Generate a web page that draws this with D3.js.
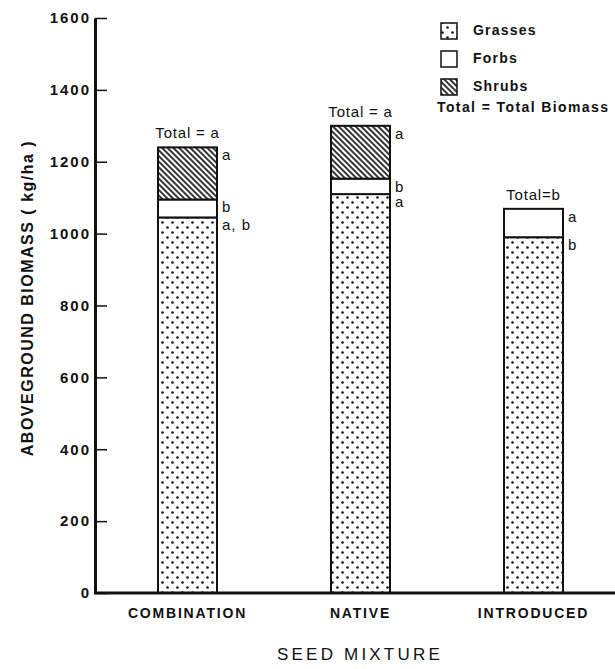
<!DOCTYPE html>
<html><head><meta charset="utf-8">
<script src="https://cdn.jsdelivr.net/npm/d3@7"></script>
<style>
html,body{margin:0;padding:0;background:#fff;}
svg text{font-family:"Liberation Sans","DejaVu Sans",sans-serif;fill:#111;}
</style></head>
<body><svg id="c" width="615" height="669"></svg>
<script>
const categories = ["COMBINATION", "NATIVE", "INTRODUCED"];
const grasses = [1045, 1110, 990];
const forbs = [50, 43, 79];
const shrubs = [145, 147, 0];
const grassLetters = ["a, b", "a", "b"];
const forbLetters = ["b", "b", "a"];
const shrubLetters = ["a", "a", ""];
const totalLetters = ["Total = a", "Total = a", "Total=b"];
const yTicks = [0, 200, 400, 600, 800, 1000, 1200, 1400, 1600];
const legendItems = [["Grasses", "url(#dots)"], ["Forbs", "#fff"], ["Shrubs", "url(#hatch)"]];

const svg = d3.select("#c");
const defs = svg.append("defs");
const dp = defs.append("pattern").attr("id", "dots").attr("patternUnits", "userSpaceOnUse")
  .attr("width", 10).attr("height", 10);
dp.append("rect").attr("width", 10).attr("height", 10).attr("fill", "#fff");
dp.append("circle").attr("cx", 2.5).attr("cy", 2.5).attr("r", 1.3).attr("fill", "#111");
dp.append("circle").attr("cx", 7.5).attr("cy", 7.5).attr("r", 1.3).attr("fill", "#111");
const hp = defs.append("pattern").attr("id", "hatch").attr("patternUnits", "userSpaceOnUse")
  .attr("width", 4).attr("height", 4).attr("patternTransform", "rotate(-45)");
hp.append("rect").attr("width", 4).attr("height", 4).attr("fill", "#fff");
hp.append("line").attr("x1", 2).attr("x2", 2).attr("y1", -1).attr("y2", 5)
  .attr("stroke", "#111").attr("stroke-width", 1.7);

const y = d3.scaleLinear().domain([0, 1600]).range([593, 18]);
const x = d3.scaleBand().domain(categories).range([101, 620])
  .paddingInner(0.659).paddingOuter(0.3295);

// y axis
const ya = svg.append("g").attr("transform", "translate(95,0)")
  .call(d3.axisLeft(y).tickValues(yTicks).tickFormat(d3.format("d")).tickSize(-12).tickSizeOuter(0).tickPadding(4));
ya.select(".domain").attr("stroke", "#111").attr("stroke-width", 3);
ya.selectAll(".tick line").attr("stroke", "#111").attr("stroke-width", 1.5);
ya.selectAll(".tick text").attr("font-size", 15).attr("font-weight", "bold").attr("letter-spacing", 2)
  .style("font-family", "'Liberation Sans',sans-serif").attr("fill", "#111");

// bars
const data = categories.map((c, i) => ({c, i, g: grasses[i], f: forbs[i], s: shrubs[i]}));
const bw = x.bandwidth();
data.forEach(d => {
  const x0 = x(d.c);
  const segs = [
    [0, d.g, "url(#dots)"],
    [d.g, d.g + d.f, "#fff"],
    [d.g + d.f, d.g + d.f + d.s, "url(#hatch)"]
  ].filter(s => s[1] > s[0]);
  segs.forEach(s => {
    svg.append("rect").attr("x", x0).attr("width", bw)
      .attr("y", y(s[1])).attr("height", y(s[0]) - y(s[1]))
      .attr("fill", s[2]).attr("stroke", "#111").attr("stroke-width", 2);
  });
  const lx = x0 + bw + 5;
  const lab = (v, t) => svg.append("text").attr("x", lx).attr("y", y(v) + 9)
    .attr("dominant-baseline", "middle").attr("font-size", 15).attr("letter-spacing", 1).text(t);
  lab(d.g, grassLetters[d.i]);
  lab(d.g + d.f, forbLetters[d.i]);
  if (d.s > 0) lab(d.g + d.f + d.s, shrubLetters[d.i]);
  svg.append("text").attr("x", x0 + bw / 2).attr("y", y(d.g + d.f + d.s) - 9)
    .attr("text-anchor", "middle").attr("font-size", 15).attr("letter-spacing", 0.8).text(totalLetters[d.i]);
});

// x axis
svg.append("line").attr("x1", 94).attr("x2", 615).attr("y1", 593).attr("y2", 593)
  .attr("stroke", "#111").attr("stroke-width", 3);
const xa = svg.append("g").attr("transform", "translate(0,593)")
  .call(d3.axisBottom(x).tickSize(0).tickPadding(15));
xa.select(".domain").remove();
xa.selectAll(".tick text").attr("font-size", 14).attr("font-weight", "bold")
  .style("font-family", "'Liberation Sans',sans-serif").attr("fill", "#111").attr("letter-spacing", 1.8);

// axis titles
svg.append("text").attr("transform", "translate(33,298) rotate(-90)")
  .attr("text-anchor", "middle").attr("font-size", 16).attr("font-weight", "bold")
  .attr("letter-spacing", 1.5).text("ABOVEGROUND BIOMASS ( kg/ha )");
svg.append("text").attr("x", 360).attr("y", 660).attr("text-anchor", "middle")
  .attr("font-size", 17).attr("letter-spacing", 3.2).text("SEED MIXTURE");

// legend
const lg = svg.append("g");
legendItems.forEach((it, i) => {
  const yy = 23 + i * 28;
  lg.append("rect").attr("x", 441).attr("y", yy).attr("width", 16).attr("height", 16)
    .attr("fill", it[1]).attr("stroke", "#111").attr("stroke-width", 1.5);
  lg.append("text").attr("x", 473).attr("y", yy + 8).attr("dominant-baseline", "middle")
    .attr("font-size", 14).attr("font-weight", "bold").attr("letter-spacing", 1.2).text(it[0]);
});
lg.append("text").attr("x", 437).attr("y", 108).attr("dominant-baseline", "middle")
  .attr("font-size", 14).attr("font-weight", "bold").attr("letter-spacing", 1.4).text("Total = Total Biomass");
</script></body></html>
